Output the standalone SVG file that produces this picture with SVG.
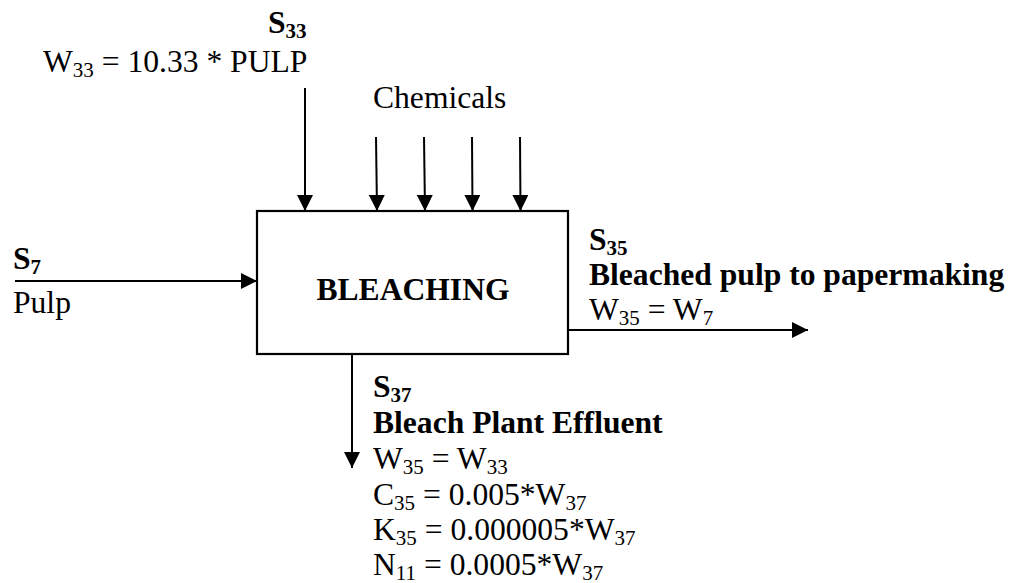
<svg xmlns="http://www.w3.org/2000/svg" width="1010" height="583" viewBox="0 0 1010 583">
<defs>
<marker id="ah" markerUnits="userSpaceOnUse" markerWidth="16" markerHeight="16" refX="16" refY="8" orient="auto" viewBox="0 0 16 16">
<path d="M0,0 L16,8 L0,16 z" fill="#000"/>
</marker>
<style>
text{font-family:"Liberation Serif","Times New Roman",serif;font-size:31.6px;fill:#000}
.b{font-weight:bold}
.s{font-size:21px}
.conn line{stroke:#000;stroke-width:2;marker-end:url(#ah)}
</style>
</defs>
<rect width="1010" height="583" fill="#fff"/>
<g id="bleaching">
<rect x="257" y="211" width="311" height="143" fill="#fff" stroke="#000" stroke-width="2.2"/>
<text class="b" x="413" y="300" text-anchor="middle">BLEACHING</text>
</g>
<g id="conn" class="conn">
<line x1="305" y1="88" x2="305" y2="211"/>
<line x1="376" y1="137" x2="377" y2="211"/>
<line x1="424" y1="137" x2="425" y2="211"/>
<line x1="472" y1="137" x2="472.5" y2="211"/>
<line x1="520" y1="137" x2="520.5" y2="211"/>
<line x1="15" y1="281" x2="257" y2="281"/>
<line x1="567" y1="330" x2="808" y2="330"/>
<line x1="352" y1="354" x2="352" y2="468"/>
</g>
<g id="s33">
<text class="b" x="268" y="33">S<tspan class="s" dy="5">33</tspan></text>
<text x="43" y="72">W<tspan class="s" dy="5">33</tspan><tspan dy="-5"> = 10.33 * PULP</tspan></text>
</g>
<g id="chemicals">
<text x="373" y="108">Chemicals</text>
</g>
<g id="s7">
<text class="b" x="13" y="269">S<tspan class="s" dy="5">7</tspan></text>
<text x="13" y="313">Pulp</text>
</g>
<g id="s35">
<text class="b" x="589" y="250">S<tspan class="s" dy="5">35</tspan></text>
<text class="b" x="589" y="285">Bleached pulp to papermaking</text>
<text x="589" y="320">W<tspan class="s" dy="5">35</tspan><tspan dy="-5"> = W</tspan><tspan class="s" dy="5">7</tspan></text>
</g>
<g id="s37">
<text class="b" x="373" y="397">S<tspan class="s" dy="5">37</tspan></text>
<text class="b" x="373" y="433">Bleach Plant Effluent</text>
<text x="373" y="469">W<tspan class="s" dy="5">35</tspan><tspan dy="-5"> = W</tspan><tspan class="s" dy="5">33</tspan></text>
<text x="373" y="505">C<tspan class="s" dy="5">35</tspan><tspan dy="-5"> = 0.005*W</tspan><tspan class="s" dy="5">37</tspan></text>
<text x="373" y="540">K<tspan class="s" dy="5">35</tspan><tspan dy="-5"> = 0.000005*W</tspan><tspan class="s" dy="5">37</tspan></text>
<text x="373" y="575">N<tspan class="s" dy="5">11</tspan><tspan dy="-5"> = 0.0005*W</tspan><tspan class="s" dy="5">37</tspan></text>
</g>
</svg>
